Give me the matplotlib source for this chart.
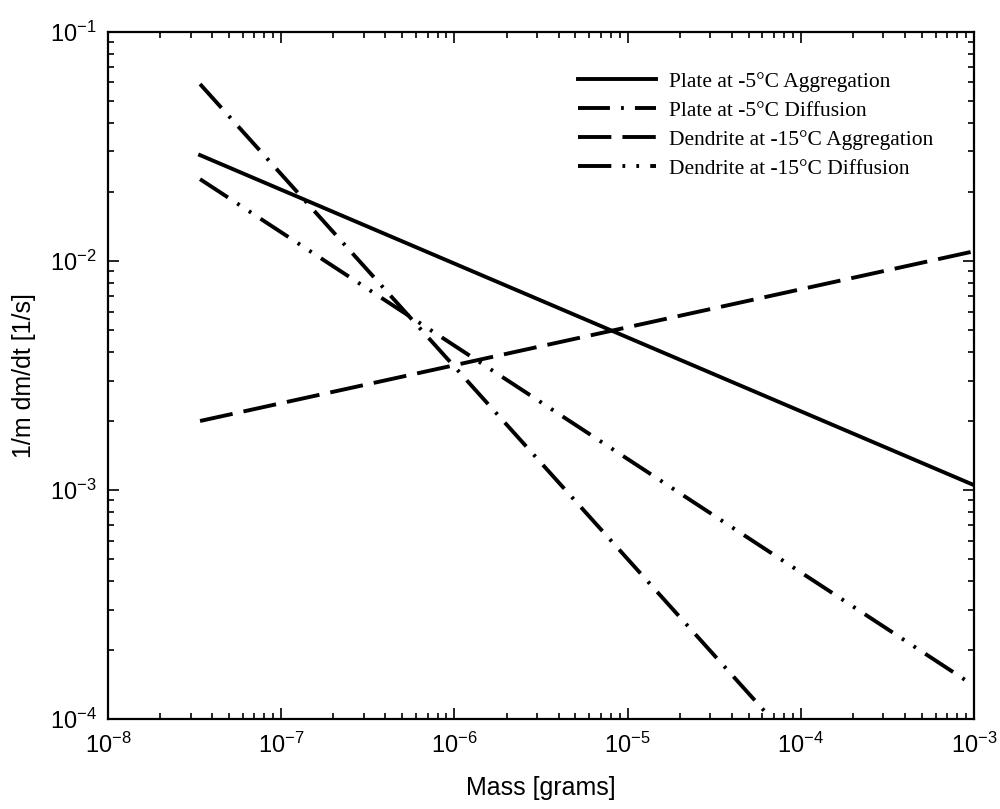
import numpy as np
import matplotlib
matplotlib.use('Agg')
import matplotlib.pyplot as plt

plt.rcParams['font.family'] = 'Liberation Sans'
plt.rcParams['mathtext.fontset'] = 'custom'
plt.rcParams['mathtext.rm'] = 'Liberation Sans'
plt.rcParams['mathtext.it'] = 'Liberation Sans'
plt.rcParams['axes.unicode_minus'] = False
plt.rcParams['lines.scale_dashes'] = False

# masses at the two ends of each straight (log-log) line
masa_inicio = 3.4e-8
masa_fin = 1e-3

etiquetas = [
    'Plate at -5°C Aggregation',
    'Plate at -5°C Diffusion',
    'Dendrite at -15°C Aggregation',
    'Dendrite at -15°C Diffusion',
]

plate_agg_x = [masa_inicio, masa_fin]
plate_agg_y = [2.89e-2, 1.05e-3]

plate_dif_x = [masa_inicio, 6.8e-5]
plate_dif_y = [5.9e-2, 1.0e-4]

dend_agg_x = [masa_inicio, masa_fin]
dend_agg_y = [2.0e-3, 1.1e-2]

dend_dif_x = [masa_inicio, masa_fin]
dend_dif_y = [2.27e-2, 1.4e-4]

fig = plt.figure(figsize=(10, 8.09), dpi=100)
ax = fig.add_axes([0.108, 0.111, 0.866, 0.850])

lw = 2.8
ax.plot(plate_agg_x, plate_agg_y, color='black', lw=lw, ls='-', label=etiquetas[0])
ax.plot(plate_dif_x, plate_dif_y, color='black', lw=lw,
        ls=(0, (23, 8, 2, 8)), label=etiquetas[1])
ax.plot(dend_agg_x, dend_agg_y, color='black', lw=lw,
        ls=(0, (24, 8)), label=etiquetas[2])
ax.plot(dend_dif_x, dend_dif_y, color='black', lw=lw,
        ls=(0, (24, 8, 2, 8, 2, 8)), label=etiquetas[3])

ax.set_xscale('log')
ax.set_yscale('log')
ax.set_xlim(1e-8, 1e-3)
ax.set_ylim(1e-4, 1e-1)

ax.set_xlabel('Mass [grams]', fontsize=18, labelpad=13)
ax.set_ylabel('1/m dm/dt [1/s]', fontsize=18, labelpad=10)

ax.tick_params(which='both', direction='in', top=True, right=True, labelsize=17, width=1.2)
ax.tick_params(axis='x', which='major', pad=10)
ax.tick_params(axis='y', which='major', pad=8)
ax.tick_params(which='major', length=8)
ax.tick_params(which='minor', length=4)
for s in ax.spines.values():
    s.set_linewidth(1.6)

ax.legend(loc='upper right', bbox_to_anchor=(0.975, 0.97), frameon=False,
          prop={'family': 'Liberation Serif', 'size': 15.5},
          handlelength=3.6, handletextpad=0.6, labelspacing=0.42)

fig.savefig('out.png', dpi=100)
